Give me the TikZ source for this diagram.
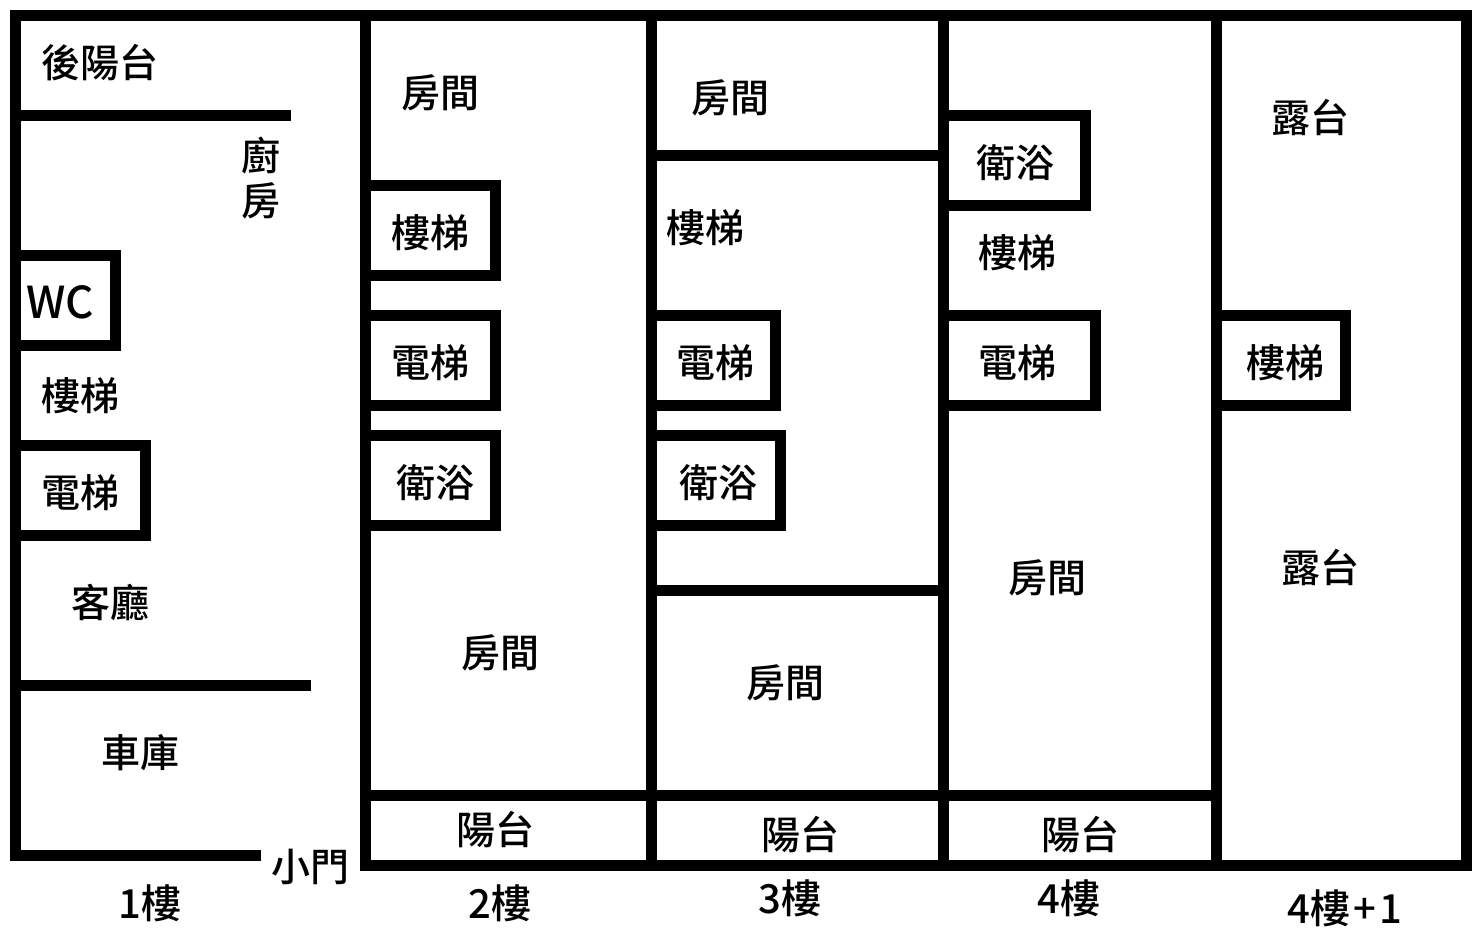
\documentclass[tikz,border=0pt]{standalone}
\usepackage{fontspec}
\setmainfont{Noto Sans CJK TC Medium}
\tikzset{
    wall/.style={line width=11pt, line cap=butt, line join=miter, black, shift={(0.5, 0.5)}},
    room/.style={font=\fontsize{39}{39}\selectfont, inner sep=0pt, black},
    floorname/.style={font=\fontsize{40}{40}\selectfont, inner sep=0pt, black}
}
\begin{document}
\begin{tikzpicture}[x=1pt, y=-1pt]
    \useasboundingbox (0, 0) rectangle (1481, 944);
    % outer walls
    \draw[wall]
        (260.5, 855) -- (15, 855) -- (15, 15) -- (1466, 15) -- (1466, 865) -- (365, 865) -- (365, 15)
        (651, 15) -- (651, 865)
        (943, 15) -- (943, 865)
        (1216, 15) -- (1216, 865);
    % 1st floor
    \draw[wall]
        (15, 115) -- (290.5, 115)
        (15, 685) -- (310.5, 685)
        (15, 255) -- (115, 255) -- (115, 345) -- (15, 345)
        (15, 445) -- (145, 445) -- (145, 535) -- (15, 535);
    % 2nd floor
    \draw[wall]
        (365, 185) -- (495, 185) -- (495, 275) -- (365, 275)
        (365, 315) -- (495, 315) -- (495, 405) -- (365, 405)
        (365, 435) -- (495, 435) -- (495, 525) -- (365, 525)
        (365, 795) -- (1216, 795);
    % 3rd floor
    \draw[wall]
        (651, 155) -- (943, 155)
        (651, 590) -- (943, 590)
        (651, 315) -- (775, 315) -- (775, 405) -- (651, 405)
        (651, 435) -- (780, 435) -- (780, 525) -- (651, 525);
    % 4th floor
    \draw[wall]
        (943, 115) -- (1085, 115) -- (1085, 205) -- (943, 205)
        (943, 315) -- (1095, 315) -- (1095, 405) -- (943, 405);
    % roof
    \draw[wall]
        (1216, 315) -- (1345, 315) -- (1345, 405) -- (1216, 405);
    % labels
    \node[room] (backyard) at (100, 63) {後陽台};
    \node[room, align=center] (kitchen) at (261, 178) {廚\\[6pt]房};
    \node[room, font=\fontsize{44}{44}\selectfont] (wc) at (60, 302) {WC};
    \node[room] (stairsa) at (80, 396) {樓梯};
    \node[room] (lifta) at (80, 493) {電梯};
    \node[room] (living) at (110, 603) {客廳};
    \node[room] (garage) at (140, 753) {車庫};
    \node[room] (door) at (310, 867) {小門};
    \node[room] (roomb) at (440, 93) {房間};
    \node[room] (stairsb) at (430, 233) {樓梯};
    \node[room] (liftb) at (430, 363) {電梯};
    \node[room] (bathb) at (435, 483) {衛浴};
    \node[room] (roomc) at (500, 653) {房間};
    \node[room] (balconyb) at (495, 830) {陽台};
    \node[room] (roomd) at (730, 98) {房間};
    \node[room] (stairsc) at (705, 228) {樓梯};
    \node[room] (liftc) at (715, 363) {電梯};
    \node[room] (bathc) at (718, 483) {衛浴};
    \node[room] (roome) at (785, 683) {房間};
    \node[room] (balconyc) at (800, 835) {陽台};
    \node[room] (bathd) at (1015, 163) {衛浴};
    \node[room] (stairsd) at (1017, 253) {樓梯};
    \node[room] (liftd) at (1017, 363) {電梯};
    \node[room] (roomf) at (1047, 578) {房間};
    \node[room] (balconyd) at (1080, 835) {陽台};
    \node[room] (terracea) at (1310, 118) {露台};
    \node[room] (stairse) at (1285, 363) {樓梯};
    \node[room] (terraceb) at (1320, 568) {露台};
    \node[floorname] (floora) at (150, 903) {1樓};
    \node[floorname] (floorb) at (500, 903) {2樓};
    \node[floorname] (floorc) at (790, 898) {3樓};
    \node[floorname] (floord) at (1069, 898) {4樓};
    \node[floorname] (floore) at (1345, 908) {4樓\hspace{3pt}+\hspace{3pt}1};
\end{tikzpicture}
\end{document}
